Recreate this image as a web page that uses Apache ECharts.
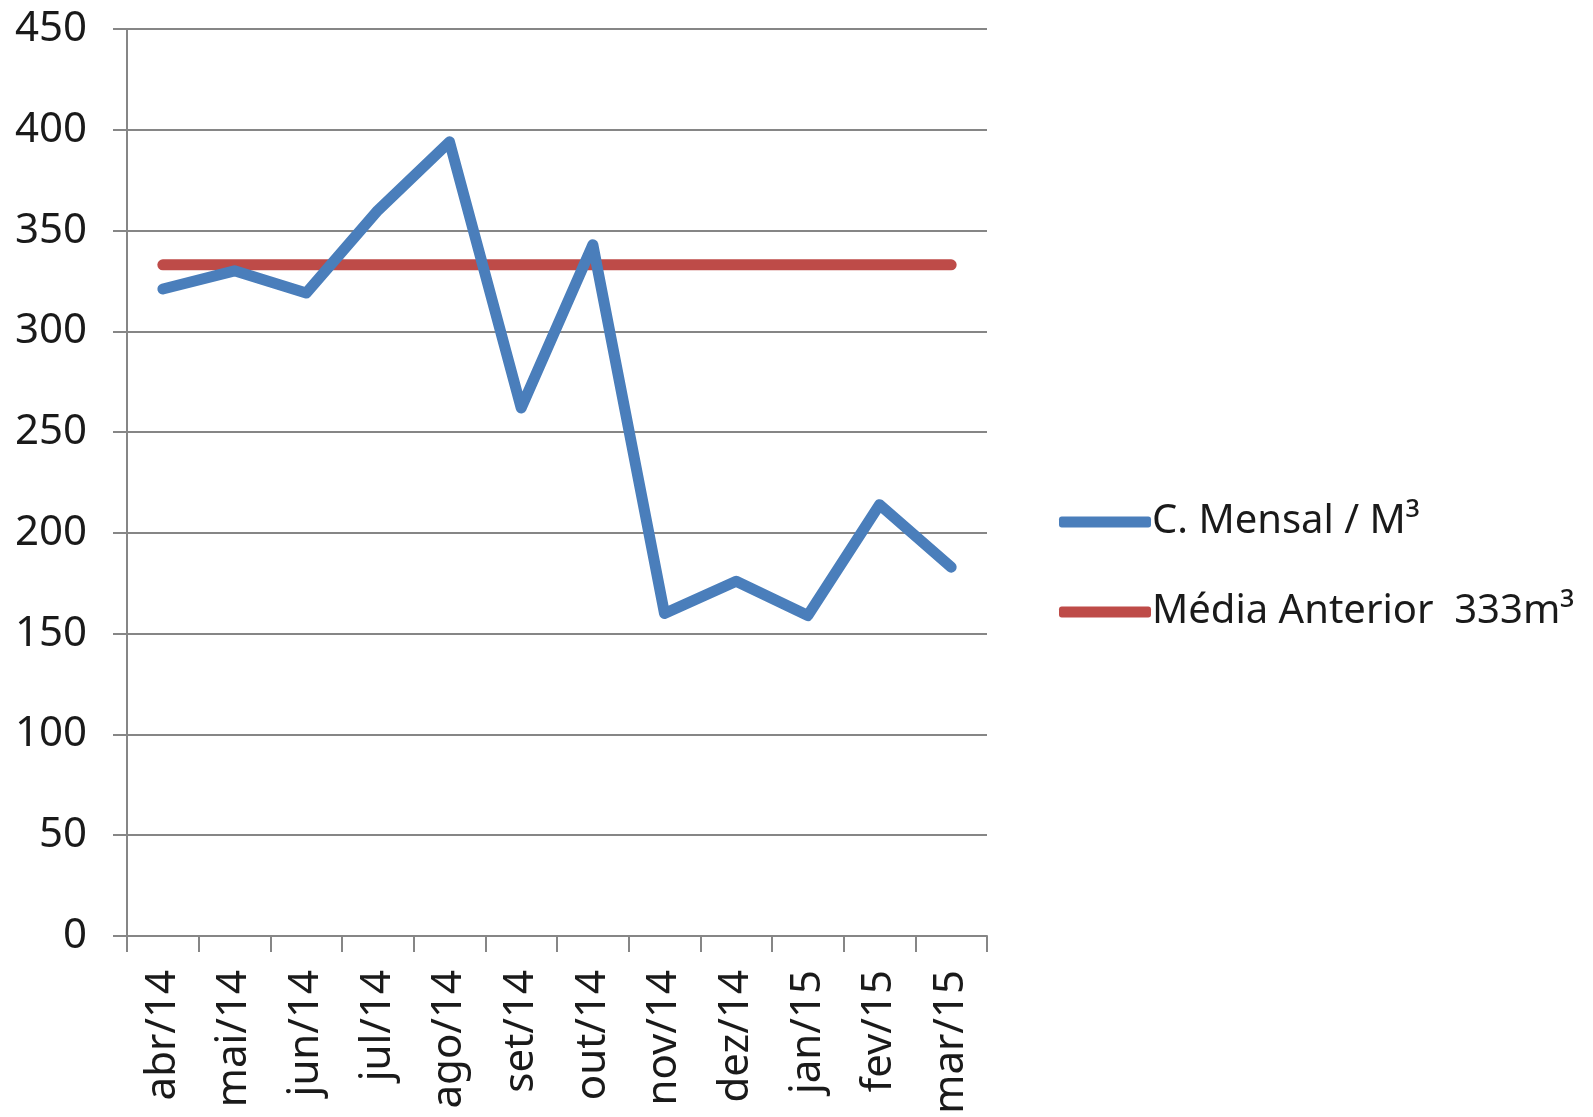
<!DOCTYPE html>
<html>
<head>
<meta charset="utf-8">
<script src="https://cdn.jsdelivr.net/npm/echarts@6/dist/echarts.min.js"></script>
<style>
html,body{margin:0;padding:0;background:#fff;}
#chart{width:1593px;height:1117px;}
</style>
</head>
<body>
<div id="chart"></div>
<script>
const categories = ['abr/14','mai/14','jun/14','jul/14','ago/14','set/14','out/14','nov/14','dez/14','jan/15','fev/15','mar/15'];
const mensal = [321, 330, 319, 360, 394, 262, 343, 160, 176, 159, 214, 183];
const mediaAnterior = [333, 333, 333, 333, 333, 333, 333, 333, 333, 333, 333, 333];
const seriesNames = ['C. Mensal / M³', 'Média Anterior  333m³'];

const chart = echarts.init(document.getElementById('chart'));
const font = 'Noto Sans';
chart.setOption({
  backgroundColor: '#ffffff',
  animation: false,
  grid: { left: 127, right: 606, top: 29, bottom: 181, containLabel: false },
  legend: {
    orient: 'vertical',
    left: 1054,
    top: 492,
    itemWidth: 92,
    itemHeight: 11,
    itemGap: 40,
    icon: 'roundRect',
    textStyle: { fontFamily: font, fontSize: 40, color: '#1a1a1a', lineHeight: 50, padding: [0,0,0,-4] },
    data: seriesNames
  },
  xAxis: {
    type: 'category',
    data: categories,
    boundaryGap: true,
    axisLine: { lineStyle: { color: '#868686', width: 2 } },
    axisTick: { show: true, length: 16, alignWithLabel: false, lineStyle: { color: '#868686', width: 2 } },
    axisLabel: { rotate: 90, interval: 0, margin: 34, fontFamily: font, fontSize: 42, color: '#1a1a1a' },
    splitLine: { show: false }
  },
  yAxis: {
    type: 'value',
    min: 0, max: 450, interval: 50,
    axisLine: { show: true, lineStyle: { color: '#868686', width: 2 } },
    axisTick: { show: true, length: 14, lineStyle: { color: '#868686', width: 2 } },
    axisLabel: { margin: 40, fontFamily: font, fontSize: 42, color: '#1a1a1a' },
    splitLine: { show: true, lineStyle: { color: '#868686', width: 2 } }
  },
  series: [
    {
      name: seriesNames[0],
      type: 'line',
      data: mensal,
      showSymbol: false,
      symbol: 'none',
      color: '#4A7EBB',
      lineStyle: { color: '#4A7EBB', width: 11, cap: 'round', join: 'round' },
      z: 3
    },
    {
      name: seriesNames[1],
      type: 'line',
      data: mediaAnterior,
      showSymbol: false,
      symbol: 'none',
      color: '#BE4B48',
      lineStyle: { color: '#BE4B48', width: 11, cap: 'round', join: 'round' },
      z: 2
    }
  ]
});
</script>
</body>
</html>
